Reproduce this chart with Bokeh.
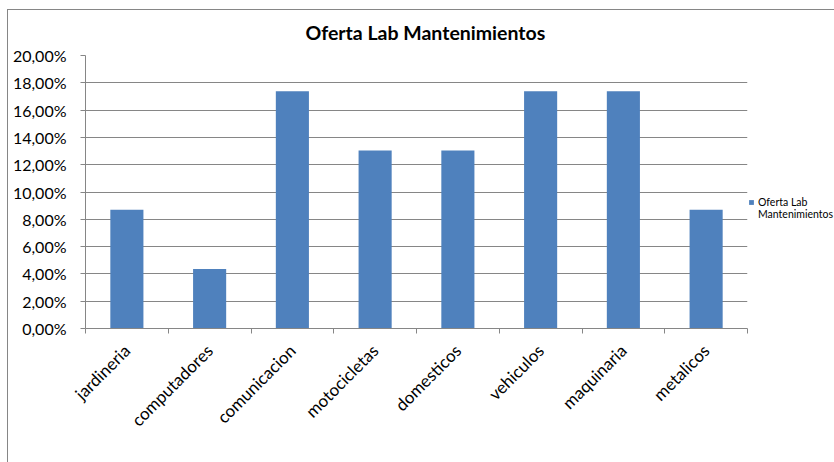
from bokeh.plotting import figure
from bokeh.models import Range1d, FixedTicker, CustomJSTickFormatter, Legend, LegendItem, ColumnDataSource
from bokeh.embed import file_html
from bokeh.resources import INLINE
import math

title = "Oferta Lab Mantenimientos"
series_lines = ["Oferta Lab", "Mantenimientos"]
categories = ["jardineria", "computadores", "comunicacion", "motocicletas",
              "domesticos", "vehiculos", "maquinaria", "metalicos"]
values = [0.0870, 0.0435, 0.1739, 0.1304, 0.1304, 0.1739, 0.1739, 0.0870]
y_ticks = [0.0, 0.02, 0.04, 0.06, 0.08, 0.10, 0.12, 0.14, 0.16, 0.18, 0.20]

FONT = "Lato"
GRAY = "#868686"
BAR = "#4F81BD"

n = len(categories)
xs = [i + 0.5 for i in range(n)]
src = ColumnDataSource(dict(x=xs, top=values, cat=categories))

p = figure(frame_width=662, frame_height=273, output_backend="svg", toolbar_location=None,
           x_range=Range1d(0, n), y_range=Range1d(0, 0.20),
           min_border_left=77, min_border_right=87, min_border_top=45, min_border_bottom=134)
p.outline_line_color = None
p.background_fill_color = "white"
p.border_fill_color = "white"
p.styles = {"margin-left": "7px", "margin-top": "9px",
            "border-left": "1px solid #868686", "border-top": "1px solid #868686"}

r = p.vbar(x="x", top="top", width=0.4, source=src, fill_color=BAR, line_color=None)
dummy = p.vbar(x=[], top=[], width=0.4, fill_alpha=0, line_alpha=0)

# title
p.title.text = title
p.title.align = "left"
p.title.vertical_align = "top"
p.title.offset = 220
p.title.standoff = 20
p.title.text_font = FONT
p.title.text_font_style = "bold"
p.title.text_font_size = "19.5px"
p.title.text_color = "#000000"

# y axis
p.yaxis.ticker = FixedTicker(ticks=y_ticks)
p.yaxis.formatter = CustomJSTickFormatter(code="return (tick*100).toFixed(2).replace('.', ',') + '%';")
p.yaxis.axis_line_color = GRAY
p.yaxis.major_tick_line_color = GRAY
p.yaxis.major_tick_out = 5
p.yaxis.major_tick_in = 0
p.yaxis.minor_tick_line_color = None
p.yaxis.major_label_standoff = 14
p.yaxis.major_label_text_font = FONT
p.yaxis.major_label_text_font_size = "16px"
p.yaxis.major_label_text_color = "#000000"

p.ygrid.ticker = FixedTicker(ticks=y_ticks)
p.ygrid.grid_line_color = GRAY
p.ygrid.grid_line_width = 1
p.xgrid.grid_line_color = None

# x axis: labels at centers, ticks at boundaries
p.xaxis.ticker = FixedTicker(ticks=xs, minor_ticks=list(range(n + 1)))
p.xaxis.major_label_overrides = {x: c for x, c in zip(xs, categories)}
p.xaxis.major_label_orientation = math.pi / 4
p.xaxis.axis_line_color = GRAY
p.xaxis.major_tick_out = 0
p.xaxis.major_tick_in = 0
p.xaxis.minor_tick_line_color = GRAY
p.xaxis.minor_tick_out = 5
p.xaxis.minor_tick_in = 0
p.xaxis.major_label_standoff = 14
p.xaxis.major_label_text_font = FONT
p.xaxis.major_label_text_font_size = "17px"
p.xaxis.major_label_text_color = "#000000"

# legend (one series, label wrapped onto two lines)
legend = Legend(items=[LegendItem(label=series_lines[0], renderers=[r]),
                       LegendItem(label=series_lines[1], renderers=[dummy])],
                location=(1, 108), padding=0, margin=0, spacing=0,
                border_line_color=None, background_fill_alpha=0,
                glyph_width=6, glyph_height=6, label_standoff=4, label_height=12,
                label_text_font=FONT, label_text_font_size="10.5px",
                label_text_color="#000000")
p.add_layout(legend, "right")

open("out.html", "w").write(file_html(p, INLINE))
